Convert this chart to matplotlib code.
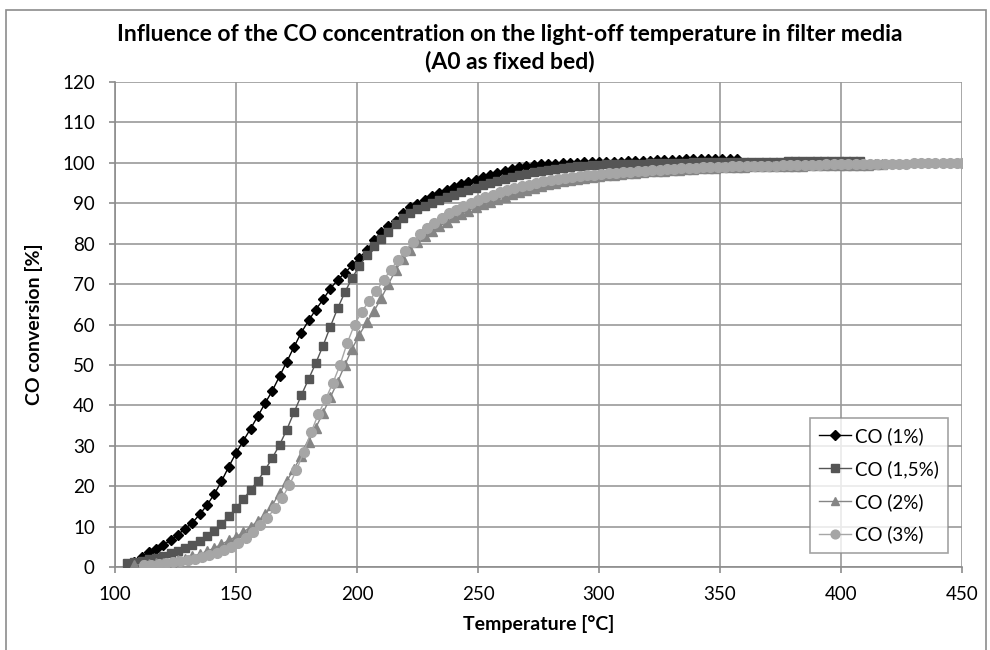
import matplotlib
matplotlib.use("Agg")
import matplotlib.pyplot as plt
from matplotlib.patches import Rectangle

# ---------------- data ----------------
t_co1 = [108, 111, 114, 117, 120, 123, 126, 129, 132, 135, 138, 141, 144, 147, 150, 153, 156, 159,
         162, 165, 168, 171, 174, 177, 180, 183, 186, 189, 192, 195, 198, 201, 204, 207, 210, 213,
         216, 219, 222, 225, 228, 231, 234, 237, 240, 243, 246, 249, 252, 255, 258, 261, 264, 267,
         270, 273, 276, 279, 282, 285, 288, 291, 294, 297, 300, 303, 306, 309, 312, 315, 318, 321,
         324, 327, 330, 333, 336, 339, 342, 345, 348, 351, 354, 357]
y_co1 = [1.2, 2.5, 3.8, 4.5, 5.5, 6.6, 8.0, 9.5, 11.0, 13.0, 15.3, 18.0, 21.2, 24.8, 28.2, 31.2, 34.2, 37.3,
         40.5, 43.6, 47.2, 50.8, 54.5, 58.0, 61.0, 63.7, 66.2, 68.9, 71.0, 72.8, 74.6, 76.5, 78.4, 80.8, 83.0, 84.3,
         85.7, 87.5, 89.0, 89.8, 90.8, 91.7, 92.6, 93.4, 94.1, 94.8, 95.3, 95.8, 96.4, 96.9, 97.5, 98.0, 98.5, 98.9,
         99.2, 99.4, 99.6, 99.7, 99.8, 99.9, 100.0, 100.0, 100.1, 100.1, 100.2, 100.2, 100.3, 100.3, 100.4, 100.4, 100.5, 100.5,
         100.6, 100.6, 100.7, 100.8, 100.9, 101.0, 101.0, 101.0, 101.0, 101.0, 101.0, 101.0]

t_co15 = [105, 108, 111, 114, 117, 120, 123, 126, 129, 132, 135, 138, 141, 144, 147, 150, 153, 156,
          159, 162, 165, 168, 171, 174, 177, 180, 183, 186, 189, 192, 195, 198, 201, 204, 207, 210,
          213, 216, 219, 222, 225, 228, 231, 234, 237, 240, 243, 246, 249, 252, 255, 258, 261, 264,
          267, 270, 273, 276, 279, 282, 285, 288, 291, 294, 297, 300, 303, 306, 309, 312, 315, 318,
          321, 324, 327, 330, 333, 336, 339, 342, 345, 348, 351, 354, 357, 360, 363, 366, 369, 372,
          375, 378, 381, 384, 387, 390, 393, 396, 399, 402, 405, 408]
y_co15 = [1.0, 1.3, 1.6, 1.9, 2.3, 2.8, 3.4, 4.0, 4.7, 5.5, 6.5, 7.6, 9.0, 10.7, 12.5, 14.6, 16.8, 19.0,
          21.4, 24.0, 27.0, 30.2, 34.0, 38.3, 42.5, 46.5, 50.5, 54.8, 59.5, 64.0, 68.0, 71.5, 74.5, 77.2, 79.3, 81.2,
          83.0, 84.8, 86.3, 87.5, 88.5, 89.3, 90.0, 90.8, 91.5, 92.1, 92.7, 93.3, 93.8, 94.4, 94.9, 95.4, 95.9, 96.4,
          96.9, 97.3, 97.7, 98.0, 98.3, 98.5, 98.7, 98.9, 99.1, 99.2, 99.4, 99.5, 99.6, 99.6, 99.7, 99.7, 99.8, 99.8,
          99.9, 99.9, 99.9, 100.0, 100.0, 100.0, 100.1, 100.1, 100.1, 100.1, 100.2, 100.2, 100.2, 100.2, 100.3, 100.3, 100.3, 100.3,
          100.3, 100.4, 100.4, 100.4, 100.4, 100.4, 100.5, 100.5, 100.5, 100.5, 100.5, 100.5]

t_co2 = [108, 111, 114, 117, 120, 123, 126, 129, 132, 135, 138, 141, 144, 147, 150, 153, 156, 159,
         162, 165, 168, 171, 174, 177, 180, 183, 186, 189, 192, 195, 198, 201, 204, 207, 210, 213,
         216, 219, 222, 225, 228, 231, 234, 237, 240, 243, 246, 249, 252, 255, 258, 261, 264, 267,
         270, 273, 276, 279, 282, 285, 288, 291, 294, 297, 300, 303, 306, 309, 312, 315, 318, 321,
         324, 327, 330, 333, 336, 339, 342, 345, 348, 351, 354, 357, 360, 363, 366, 369, 372, 375,
         378, 381, 384, 387, 390, 393, 396, 399, 402, 405, 408, 411, 414, 417]
y_co2 = [0.5, 0.6, 0.8, 0.9, 1.0, 1.3, 1.7, 2.1, 2.6, 3.2, 3.9, 4.7, 5.6, 6.6, 7.5, 8.6, 9.9, 11.4,
         13.0, 15.3, 18.3, 21.3, 24.3, 27.5, 31.0, 34.5, 38.2, 42.0, 45.8, 50.0, 54.0, 57.5, 60.5, 63.3, 66.5, 70.0,
         73.5, 76.2, 78.5, 80.5, 82.0, 83.2, 84.3, 85.4, 86.5, 87.4, 88.2, 89.0, 89.7, 90.4, 91.0, 91.6, 92.2, 92.8,
         93.3, 93.8, 94.3, 94.7, 95.1, 95.4, 95.7, 96.0, 96.2, 96.5, 96.7, 96.9, 97.1, 97.3, 97.5, 97.6, 97.7, 97.9,
         98.0, 98.1, 98.2, 98.3, 98.4, 98.5, 98.6, 98.7, 98.8, 98.9, 98.9, 99.0, 99.0, 99.1, 99.1, 99.2, 99.2, 99.2,
         99.3, 99.3, 99.3, 99.4, 99.4, 99.4, 99.4, 99.5, 99.5, 99.5, 99.5, 99.5, 99.6, 99.6]

t_co3 = [112, 115, 118, 121, 124, 127, 130, 133, 136, 139, 142, 145, 148, 151, 154, 157, 160, 163,
         166, 169, 172, 175, 178, 181, 184, 187, 190, 193, 196, 199, 202, 205, 208, 211, 214, 217,
         220, 223, 226, 229, 232, 235, 238, 241, 244, 247, 250, 253, 256, 259, 262, 265, 268, 271,
         274, 277, 280, 283, 286, 289, 292, 295, 298, 301, 304, 307, 310, 313, 316, 319, 322, 325,
         328, 331, 334, 337, 340, 343, 346, 349, 352, 355, 358, 361, 364, 367, 370, 373, 376, 379,
         382, 385, 388, 391, 394, 397, 400, 403, 406, 409, 412, 415, 418, 421, 424, 427, 430, 433,
         436, 439, 442, 445, 448, 450]
y_co3 = [0.4, 0.6, 0.8, 1.0, 1.2, 1.4, 1.7, 2.0, 2.4, 2.9, 3.5, 4.2, 5.0, 6.0, 7.2, 8.6, 10.3, 12.2,
         14.5, 17.0, 20.2, 24.0, 28.5, 33.3, 37.8, 41.5, 45.5, 50.0, 55.5, 60.0, 63.2, 65.8, 68.3, 71.0, 73.6, 76.0,
         78.3, 80.5, 82.3, 83.8, 85.2, 86.4, 87.5, 88.4, 89.3, 90.0, 90.8, 91.5, 92.1, 92.7, 93.2, 93.7, 94.2, 94.6,
         95.0, 95.4, 95.7, 96.0, 96.3, 96.5, 96.7, 96.9, 97.0, 97.2, 97.4, 97.5, 97.7, 97.8, 97.9, 98.1, 98.2, 98.3,
         98.4, 98.5, 98.6, 98.7, 98.8, 98.9, 98.9, 99.0, 99.0, 99.1, 99.1, 99.2, 99.2, 99.3, 99.3, 99.3, 99.4, 99.4,
         99.4, 99.5, 99.5, 99.5, 99.6, 99.6, 99.6, 99.7, 99.7, 99.7, 99.7, 99.8, 99.8, 99.8, 99.8, 99.8, 99.9, 99.9,
         99.9, 99.9, 99.9, 100.0, 100.0, 100.0]

series_labels = ["CO (1%)", "CO (1,5%)", "CO (2%)", "CO (3%)"]
x_ticks = [100, 150, 200, 250, 300, 350, 400, 450]
y_ticks = [0, 10, 20, 30, 40, 50, 60, 70, 80, 90, 100, 110, 120]
title_text = "Influence of the CO concentration on the light-off temperature in filter media\n(A0 as fixed bed)"
x_label = "Temperature [°C]"
y_label = "CO conversion [%]"

# ---------------- figure ----------------
plt.rcParams['font.family'] = ['Lato', 'DejaVu Sans']
W, H = 990, 650
fig = plt.figure(figsize=(W / 100, H / 100), dpi=100)
fig.patch.set_facecolor("white")

# outer chart border
fig.patches.append(Rectangle((6 / W, -0.05), 980 / W, 1.05 - 10 / H, transform=fig.transFigure,
                             fill=False, edgecolor="#8c8c8c", linewidth=1.2))

ax = fig.add_axes([115 / W, 1 - 567 / H, (962 - 115) / W, (567 - 82) / H])

styles = [
    dict(marker="D", color="#000000", ms=5.5),
    dict(marker="s", color="#555555", ms=6.0),
    dict(marker="^", color="#858585", ms=7.0),
    dict(marker="o", color="#a6a6a6", ms=7.0),
]
data = [(t_co1, y_co1), (t_co15, y_co15), (t_co2, y_co2), (t_co3, y_co3)]
for (tx, ty), lab, st in zip(data, series_labels, styles):
    ax.plot(tx, ty, color=st["color"], linewidth=1.0, marker=st["marker"], markersize=st["ms"],
            markerfacecolor=st["color"], markeredgecolor=st["color"], label=lab, zorder=3)

ax.set_xlim(100, 450)
ax.set_ylim(0, 120)
ax.set_xticks(x_ticks)
ax.set_yticks(y_ticks)
ax.grid(True, color="#9a9a9a", linewidth=1.2)
ax.set_axisbelow(True)
for side in ["top", "right"]:
    ax.spines[side].set_visible(False)
for side in ["left", "bottom"]:
    ax.spines[side].set_color("#8c8c8c")
    ax.spines[side].set_linewidth(1.2)
ax.tick_params(axis="both", direction="out", length=4.5, width=1.2, color="#8c8c8c",
               labelsize=13.5, labelcolor="#000000")
ax.tick_params(axis="y", pad=10)
ax.tick_params(axis="x", pad=9)

fig.text(0.515, 1 - 48 / H, title_text, ha="center", va="center", fontsize=16.5,
         fontweight="bold", linespacing=1.3)
ax.set_xlabel(x_label, fontsize=14, fontweight="bold", labelpad=9)
ax.set_ylabel(y_label, fontsize=14, fontweight="bold", labelpad=14)

leg = ax.legend(loc="lower right", bbox_to_anchor=((948 - 115) / (962 - 115), (567 - 553) / (567 - 82)),
                fontsize=13.5, frameon=True, fancybox=False, handlelength=1.7, handletextpad=0.2,
                borderpad=0.5, labelspacing=0.8, markerscale=0.9, borderaxespad=0)
leg.get_frame().set_edgecolor("#8c8c8c")
leg.get_frame().set_linewidth(1.2)

fig.savefig("out.png", dpi=100, facecolor="white")
